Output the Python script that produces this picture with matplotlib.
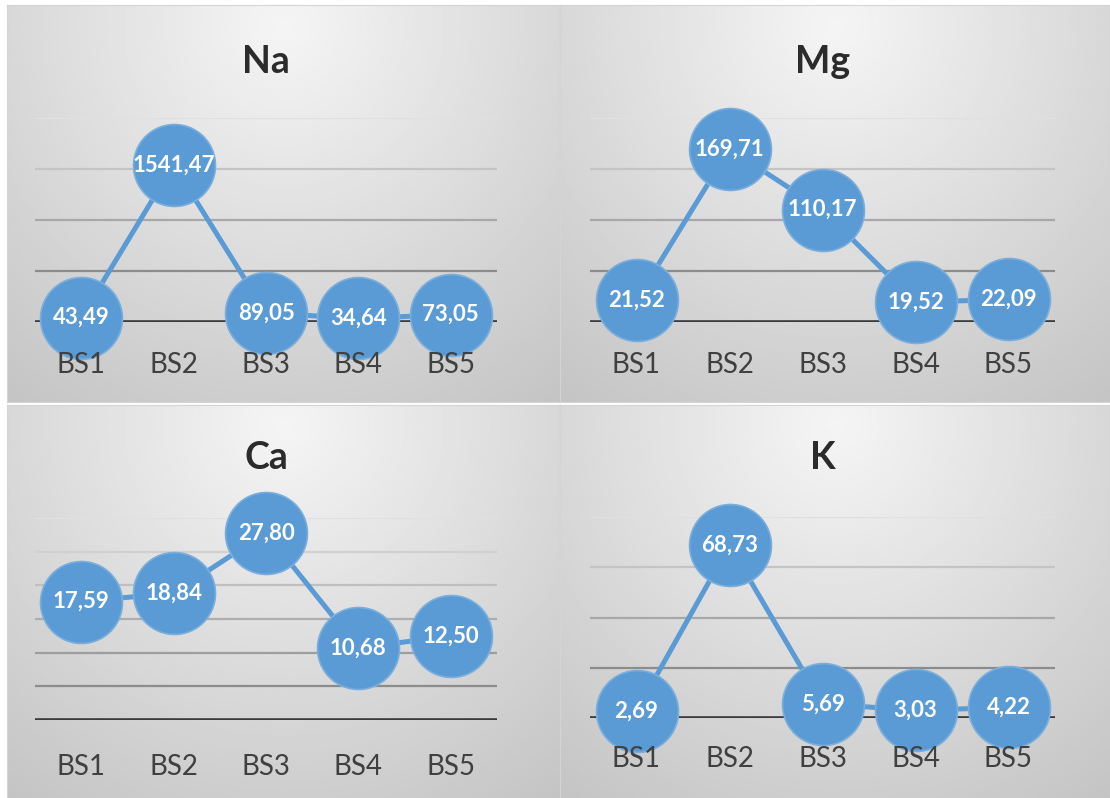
import matplotlib.pyplot as plt
import numpy as np

stations = ["BS1", "BS2", "BS3", "BS4", "BS5"]
elements = ["Na", "Mg", "Ca", "K"]
na = [43.49, 1541.47, 89.05, 34.64, 73.05]
mg = [21.52, 169.71, 110.17, 19.52, 22.09]
ca = [17.59, 18.84, 27.80, 10.68, 12.50]
k = [2.69, 68.73, 5.69, 3.03, 4.22]
y_max = [2000, 200, 30, 80]
y_step = [500, 50, 5, 20]

series = [na, mg, ca, k]

W, H = 1110, 798
fig = plt.figure(figsize=(W / 100, H / 100), dpi=100)
fig.patch.set_facecolor("white")
plt.rcParams["font.family"] = ["Lato", "DejaVu Sans"]


def rect(x0, y0, x1, y1):
    # pixel box -> figure fraction
    return [x0 / W, 1 - y1 / H, (x1 - x0) / W, (y1 - y0) / H]


panels = [(7, 5, 560, 402), (560, 5, 1110, 402), (7, 405, 560, 798), (560, 405, 1110, 798)]
plots = [(35, 118, 497, 322), (590, 118, 1055, 322), (35, 518, 497, 720), (590, 517, 1055, 718)]
pads = [21.5, 21.5, 24.5, 20.5]
blue = "#5b9bd5"

# radial gray gradient for panel backgrounds
yy, xx = np.mgrid[0:1:200j, 0:1:200j]
r = np.sqrt(((xx - 0.5) / 0.75) ** 2 + ((yy - 0.05) / 1.05) ** 2)
grad = np.clip(0.96 - 0.17 * r, 0, 1)

for i in range(4):
    bg = fig.add_axes(rect(*panels[i]))
    bg.imshow(grad, cmap="gray", vmin=0, vmax=1, aspect="auto", extent=[0, 1, 0, 1], origin="upper")
    bg.set_xticks([])
    bg.set_yticks([])
    for s in bg.spines.values():
        s.set_color("#d4d4d4")
        s.set_linewidth(0.8)

    ax = fig.add_axes(rect(*plots[i]))
    ax.patch.set_alpha(0)
    ax.set_xlim(-0.5, 4.5)
    ax.set_ylim(0, y_max[i])
    for s in ax.spines.values():
        s.set_visible(False)

    levels = np.arange(y_step[i], y_max[i] + y_step[i] / 2, y_step[i])
    n = len(levels)
    for j, v in enumerate(levels):
        shade = 0.55 + 0.33 * j / max(n - 1, 1)
        ax.axhline(v, color=str(shade), lw=1.6, zorder=1)
    ax.axhline(0, color="#3a3a3a", lw=2.6, zorder=2)

    x = np.arange(len(stations))
    vals = series[i]
    ax.plot(x, vals, color=blue, lw=3.6, marker="o", ms=59, mfc=blue,
            mec="#7aaedd", mew=1.2, clip_on=False, zorder=3)
    for xi, v in zip(x, vals):
        ax.text(xi, v, f"{v:.2f}".replace(".", ","), ha="center", va="center",
                color="white", fontsize=16, fontweight="bold", zorder=4)

    ax.set_yticks([])
    ax.set_xticks(x)
    ax.set_xticklabels(stations, fontsize=20, color="#404040")
    ax.tick_params(axis="x", length=0, pad=pads[i])
    ax.xaxis.set_zorder(5)

    cx = (plots[i][0] + plots[i][2]) / 2
    ty = 62 if i < 2 else 458
    fig.text(cx / W, 1 - ty / H, elements[i], ha="center", va="center",
             fontsize=27, fontweight="bold", color="#2b2b2b")

fig.savefig("out.png", dpi=100)
